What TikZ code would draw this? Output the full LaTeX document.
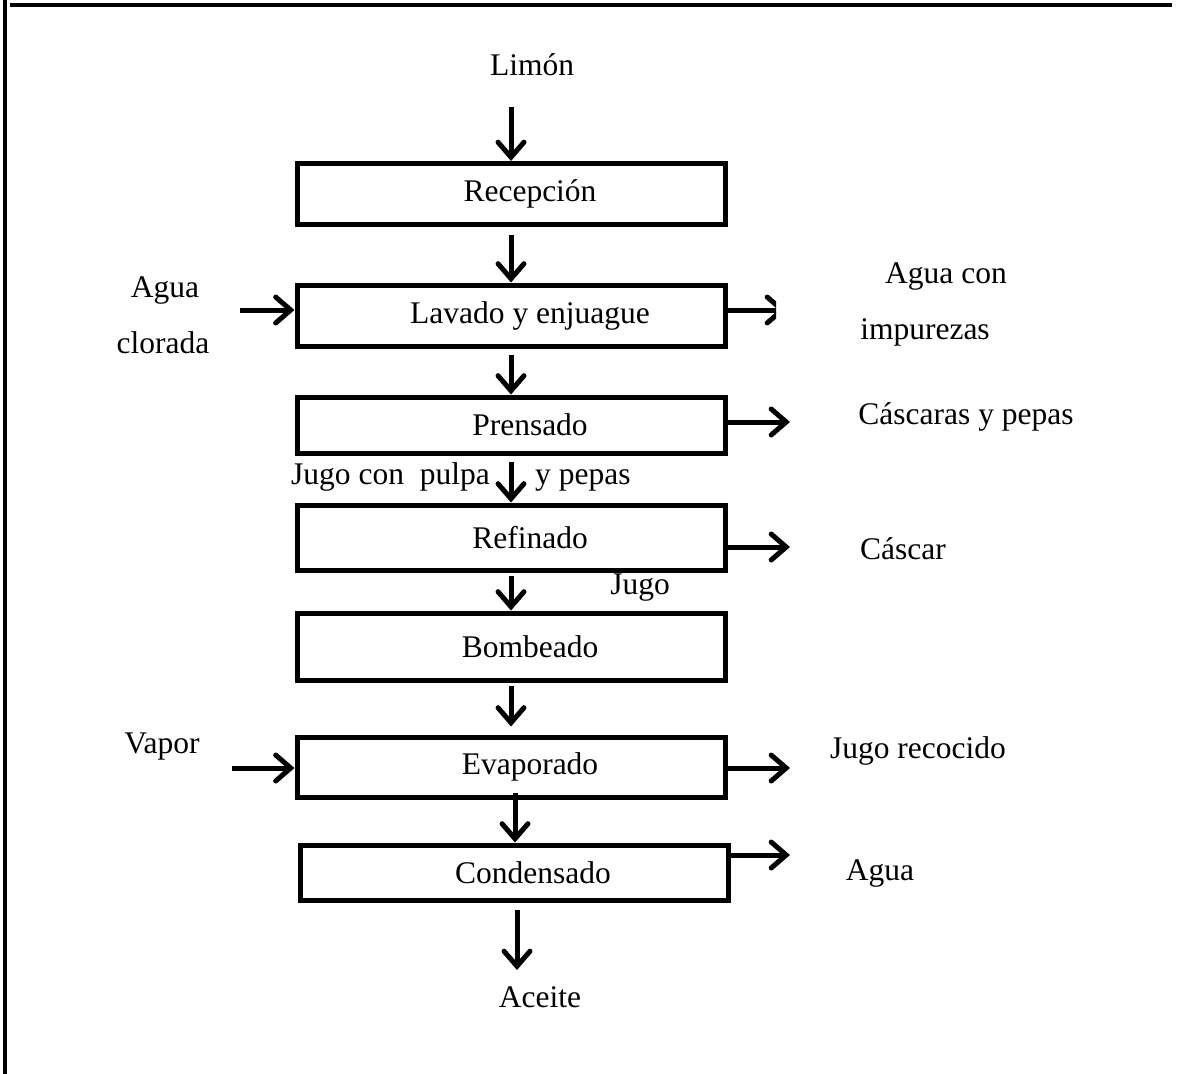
\documentclass[tikz,border=0pt]{standalone}
\usepackage{fontspec}
\setmainfont{Liberation Serif}
\usetikzlibrary{arrows.meta,calc}
\tikzset{
  txt/.style={font=\fontsize{31.5}{36}\selectfont, inner sep=0pt},
  procbox/.style={draw, line width=5pt, minimum width=428pt, inner sep=0pt,
    font=\fontsize{31.5}{36}\selectfont, execute at begin node={\hspace*{38pt}}},
  flow/.style={line width=5pt, -{Straight Barb[length=15pt,width=26pt,line cap=round]}},
  frameline/.style={line width=3.5pt}
}
\begin{document}
\begin{tikzpicture}[x=1pt,y=-1pt]
  \useasboundingbox (0,0) rectangle (1184,1074);
  % page frame
  \draw[frameline] (5,0) -- (5,1074);
  \draw[frameline] (10,5) -- (1172,5);

  % process steps
  \node[procbox, minimum height=61pt] (rec) at (511,194) {Recepción};
  \node[procbox, minimum height=61pt] (lav) at (511,315.5) {Lavado y enjuague};
  \node[procbox, minimum height=56pt] (pre) at (511,425) {Prensado};
  \node[procbox, minimum height=65pt] (ref) at (511,537.5) {Refinado};
  \node[procbox, minimum height=67pt] (bom) at (511,646.5) {Bombeado};
  \node[procbox, minimum height=60pt] (eva) at (511,767) {Evaporado};
  \node[procbox, minimum height=55pt] (con) at (514,872.5) {Condensado};

  % labels
  \node[txt] (limon) at (532,65) {Limón};
  \node[txt] (agua1) at (165,290) {Agua};
  \node[txt] (clor) at (163,343) {clorada};
  \node[txt] (aguacon) at (946,276) {Agua con};
  \node[txt] (impur) at (925,332) {impurezas};
  \node[txt] (casc) at (966,417) {Cáscaras y pepas};
  \node[txt, anchor=base west] (jcp) at (291,484) {Jugo con\ \ pulpa};
  \node[txt, anchor=base west] (ypep) at (535,484) {y pepas};
  \node[txt] (cascar) at (903,549) {Cáscar};
  \node[txt] (jugo) at (640,588) {Jugo};
  \node[txt] (vapor) at (162,747) {Vapor};
  \node[txt] (jrec) at (918,751) {Jugo recocido};
  \node[txt] (agua2) at (880,873) {Agua};
  \node[txt] (aceite) at (540,997) {Aceite};

  % free ends of the stream arrows
  \coordinate (inTop) at (511,107);
  \coordinate (outBot) at (517,970);
  \coordinate (inL) at (240,310);
  \coordinate (outL) at (786,310);
  \coordinate (outP) at (790,422);
  \coordinate (outR) at (790,547);
  \coordinate (inE) at (232,768);
  \coordinate (outE) at (790,768);
  \coordinate (outC) at (790,855);

  % main line
  \draw[flow] (inTop) -- (rec.north);
  \draw[flow] ([yshift=-8pt]rec.south) -- (lav.north);
  \draw[flow] ([yshift=-6pt]lav.south) -- (pre.north);
  \draw[flow] ([yshift=-6pt]pre.south) -- (ref.north);
  \draw[flow] ([yshift=-3pt]ref.south) -- (bom.north);
  \draw[flow] ([yshift=-3pt]bom.south) -- ([yshift=8pt]eva.north);
  \draw[flow] ([xshift=4pt,yshift=7pt]eva.south) -- ([xshift=1pt]con.north);
  \draw[flow] ([xshift=3pt,yshift=-7pt]con.south) -- (outBot);

  % side streams
  \draw[flow] (inL) -- (inL -| lav.west);
  \begin{scope}
    \clip (700,280) rectangle (776,340);
    \draw[flow] (outL -| lav.east) -- (outL);
  \end{scope}
  \draw[flow] (outP -| pre.east) -- (outP);
  \draw[flow] (outR -| ref.east) -- (outR);
  \draw[flow] (inE) -- (inE -| eva.west);
  \draw[flow] (outE -| eva.east) -- (outE);
  \draw[flow] (outC -| con.east) -- (outC);
\end{tikzpicture}
\end{document}
